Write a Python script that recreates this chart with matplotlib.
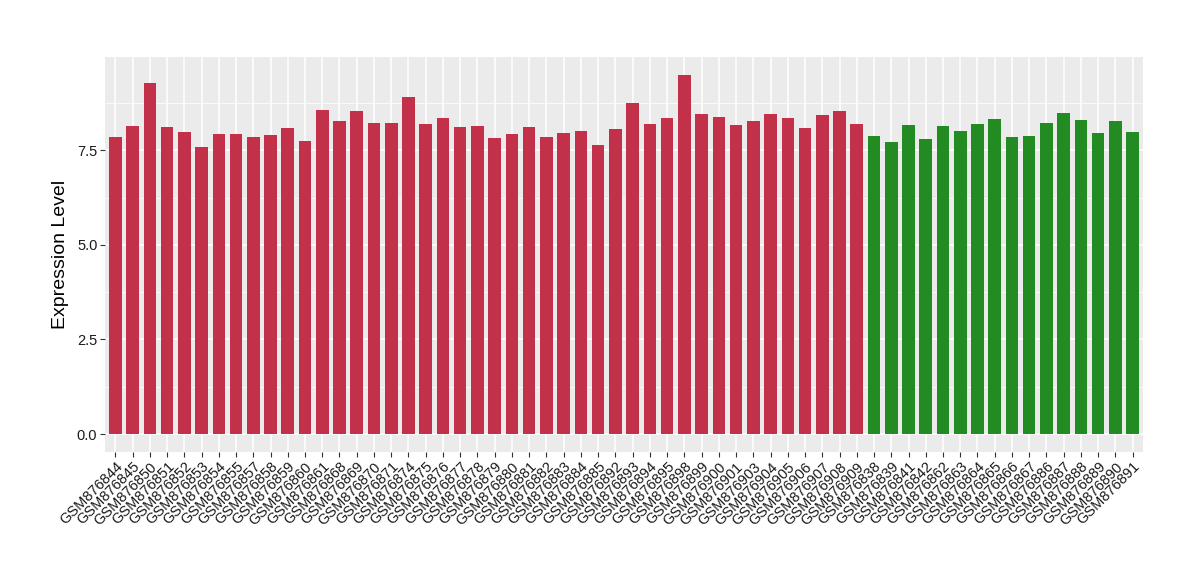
import matplotlib
matplotlib.use("Agg")
import matplotlib.pyplot as plt
import numpy as np

plt.rcParams['font.family'] = ['Liberation Sans', 'DejaVu Sans']

red_samples = ["GSM876844", "GSM876845", "GSM876850", "GSM876851", "GSM876852",
               "GSM876853", "GSM876854", "GSM876855", "GSM876857", "GSM876858",
               "GSM876859", "GSM876860", "GSM876861", "GSM876868", "GSM876869",
               "GSM876870", "GSM876871", "GSM876874", "GSM876875", "GSM876876",
               "GSM876877", "GSM876878", "GSM876879", "GSM876880", "GSM876881",
               "GSM876882", "GSM876883", "GSM876884", "GSM876885", "GSM876892",
               "GSM876893", "GSM876894", "GSM876895", "GSM876898", "GSM876899",
               "GSM876900", "GSM876901", "GSM876903", "GSM876904", "GSM876905",
               "GSM876906", "GSM876907", "GSM876908", "GSM876909"]
red_values = [7.85, 8.14, 9.28, 8.11, 7.98, 7.58, 7.92, 7.92, 7.85, 7.89,
              8.08, 7.74, 8.56, 8.27, 8.53, 8.22, 8.22, 8.90, 8.19, 8.35,
              8.11, 8.14, 7.82, 7.92, 8.11, 7.85, 7.95, 8.00, 7.63, 8.06,
              8.75, 8.19, 8.35, 9.49, 8.45, 8.37, 8.16, 8.27, 8.45, 8.35,
              8.08, 8.43, 8.53, 8.19]

green_samples = ["GSM876838", "GSM876839", "GSM876841", "GSM876842", "GSM876862",
                 "GSM876863", "GSM876864", "GSM876865", "GSM876866", "GSM876867",
                 "GSM876886", "GSM876887", "GSM876888", "GSM876889", "GSM876890",
                 "GSM876891"]
green_values = [7.87, 7.71, 8.16, 7.79, 8.14, 8.00, 8.19, 8.32, 7.85, 7.87,
                8.22, 8.48, 8.30, 7.95, 8.27, 7.98]

labels = red_samples + green_samples
values = red_values + green_values
colors = ["#C3304A"] * len(red_values) + ["#228B22"] * len(green_values)

fig = plt.figure(figsize=(12, 5.8), dpi=100)
ax = fig.add_axes([105 / 1200, 1 - 452 / 580, (1143 - 105) / 1200, (452 - 57) / 580])
ax.set_facecolor("#EBEBEB")

x = np.arange(len(values))
ax.bar(x, values, width=0.73, color=colors, zorder=3)

ax.set_xlim(-0.6, len(values) - 0.4)
vmax = max(values)
ax.set_ylim(-0.05 * vmax, vmax * 1.05)

ax.set_yticks([0, 2.5, 5.0, 7.5])
ax.set_yticklabels(["0.0", "2.5", "5.0", "7.5"])
ax.set_yticks([1.25, 3.75, 6.25, 8.75], minor=True)
ax.set_xticks(x)
ax.set_xticklabels(labels, rotation=45, ha="right", rotation_mode="anchor")

ax.grid(True, which="major", color="white", linewidth=1.1, zorder=0)
ax.grid(True, which="minor", axis="y", color="white", linewidth=0.55, zorder=0)
ax.tick_params(axis="both", which="major", length=3.5, color="#333333",
               labelsize=10.5, labelcolor="#1a1a1a", pad=2)
ax.tick_params(axis="y", which="minor", length=0)
for s in ax.spines.values():
    s.set_visible(False)

ax.set_ylabel("Expression Level", fontsize=14, labelpad=6)

fig.savefig("out.png", dpi=100)
